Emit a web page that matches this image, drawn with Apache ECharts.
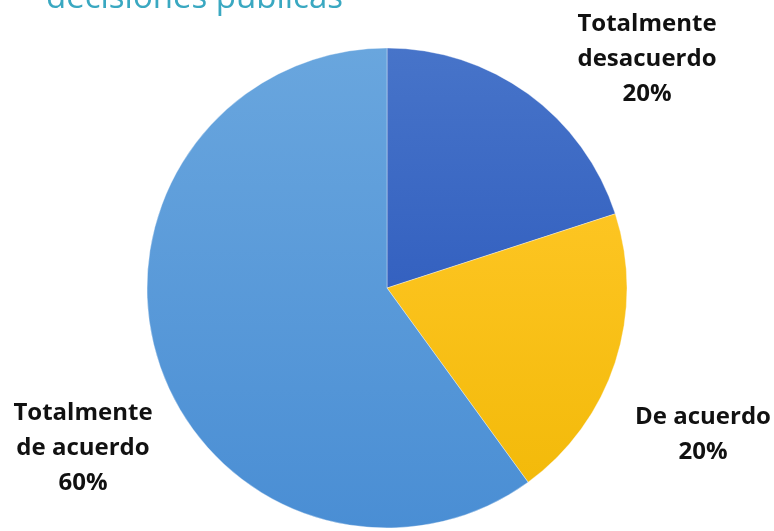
<!DOCTYPE html>
<html><head><meta charset="utf-8">
<script src="https://cdn.jsdelivr.net/npm/echarts@6/dist/echarts.min.js"></script>
<style>html,body{margin:0;padding:0;background:#fff}#c{width:774px;height:531px}</style>
</head><body><div id="c"></div>
<script>
// data
const categories = ['Totalmente desacuerdo', 'De acuerdo', 'Totalmente de acuerdo'];
const labelLines = ['Totalmente\ndesacuerdo', 'De acuerdo', 'Totalmente\nde acuerdo'];
const values = [20, 20, 60];
const titleText = 'decisiones públicas';

// styles / layout
const sliceColors = [
  ['#4774c9', '#3461c0'],
  ['#fdc522', '#f3ba0a'],
  ['#69a6de', '#4a8ed4']
];
const labelPos = [[647, 59], [703, 435], [83, 448]];

const chart = echarts.init(document.getElementById('c'));
chart.setOption({
  animation: false,
  graphic: [{
    type: 'text', left: 46, top: -18,
    style: { text: titleText, fill: '#3aa8c1', font: '33px "Open Sans"' }
  }],
  series: [{
    type: 'pie',
    center: [387, 288],
    radius: 240,
    startAngle: 90,
    clockwise: true,
    data: categories.map((c, i) => ({
      name: c, value: values[i],
      itemStyle: { color: new echarts.graphic.LinearGradient(0, 0, 0, 1, [
        { offset: 0, color: sliceColors[i][0] }, { offset: 1, color: sliceColors[i][1] }]) }
    })),
    itemStyle: { borderColor: 'rgba(255,255,255,0.35)', borderWidth: 1 },
    label: {
      show: true,
      formatter: p => labelLines[p.dataIndex] + '\n' + Math.round(p.percent) + '%',
      fontFamily: '"Open Sans"', fontWeight: 'bold', fontSize: 24, lineHeight: 35,
      color: '#111', align: 'center', overflow: 'none', width: 200
    },
    labelLine: { show: false },
    labelLayout: p => ({ x: labelPos[p.dataIndex][0], y: labelPos[p.dataIndex][1], align: 'center', verticalAlign: 'middle' }),
    emphasis: { disabled: true }
  }]
});
</script></body></html>
